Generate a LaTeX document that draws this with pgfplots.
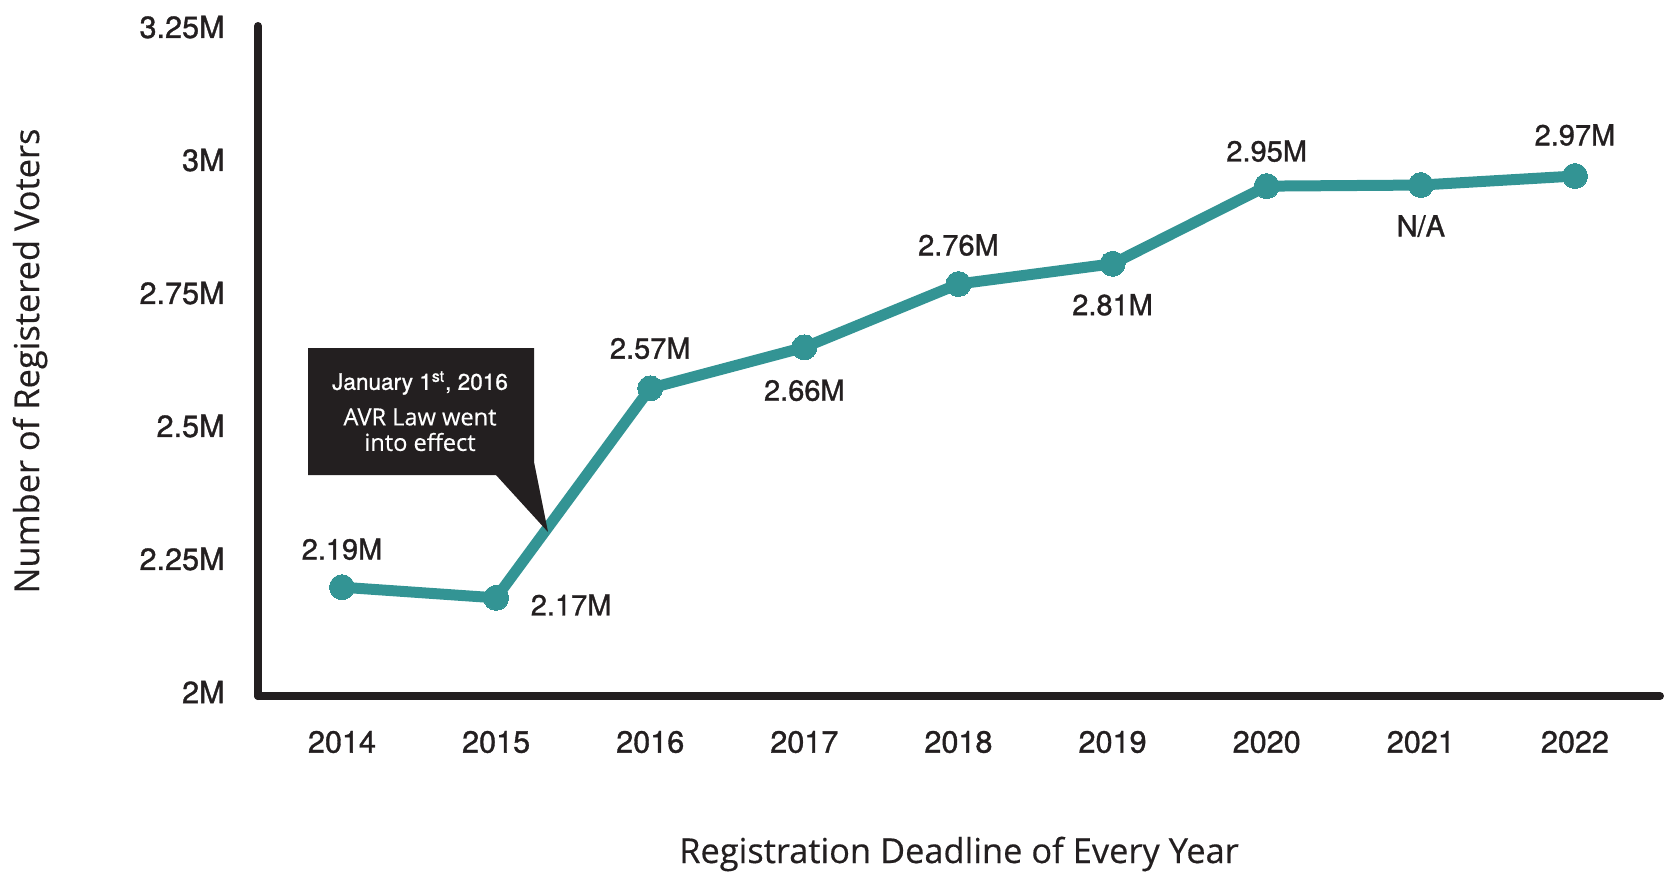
\documentclass[border=0pt]{standalone}
\usepackage{fontspec}
\setmainfont{TeX Gyre Heros}
\newfontfamily\titlefont[FakeBold=0.4]{Open Sans}
\newfontfamily\numfont[FakeBold=1.1]{TeX Gyre Heros}
\usepackage{pgfplots}
\pgfplotsset{compat=1.18}

\definecolor{teal1}{RGB}{51,148,148}
\definecolor{ink}{RGB}{35,31,32}
\tikzset{lbl/.style={font=\numfont\fontsize{14.5}{16}\selectfont, text=ink, inner sep=0pt}}

\begin{document}
\begin{tikzpicture}
\useasboundingbox (0,0) rectangle (832pt,440pt);
\begin{axis}[
  at={(129pt,92pt)}, anchor=south west,
  scale only axis, width=701pt, height=335pt,
  xmin=2013.455, xmax=2022.552,
  ymin=1.9925, ymax=3.252,
  clip=false,
  axis lines=left,
  axis line style={-, draw=ink, line width=4pt, line cap=round},
  major tick length=0pt,
  xtick={2014,2015,2016,2017,2018,2019,2020,2021,2022},
  xticklabels={2014,2015,2016,2017,2018,2019,2020,2021,2022},
  ytick={2,2.25,2.5,2.75,3,3.25},
  yticklabels={2M,2.25M,2.5M,2.75M,3M,3.25M},
  ticklabel style={font=\numfont\fontsize{15.3}{17}\selectfont, text=ink, inner sep=0pt},
  xticklabel style={anchor=center, yshift=-23pt},
  yticklabel style={anchor=east, xshift=-16.5pt},
  xlabel={Registration Deadline of Every Year},
  ylabel={Number of Registered Voters},
  label style={font=\titlefont\fontsize{17.2}{19}\selectfont, text=ink},
  xlabel style={at={(axis description cs:0.5,-0.2358)}, anchor=center},
  ylabel style={at={(axis description cs:-0.1626,0.5)}, anchor=center},
]
\addplot[teal1, line width=5.5pt, line join=round, mark=*, mark size=6.25pt,
  mark options={fill=teal1, draw=teal1, line width=0pt}]
  coordinates {
  (2014,2.197) (2015,2.177) (2016,2.571) (2017,2.648) (2018,2.767)
  (2019,2.805) (2020,2.951) (2021,2.953) (2022,2.970)
  };
\node[lbl, yshift=19pt] at (axis cs:2014,2.197) {2.19M};
\node[lbl, xshift=37.5pt, yshift=-3.5pt] at (axis cs:2015,2.177) {2.17M};
\node[lbl, yshift=20pt] at (axis cs:2016,2.571) {2.57M};
\node[lbl, yshift=-21.5pt] at (axis cs:2017,2.648) {2.66M};
\node[lbl, yshift=19.5pt] at (axis cs:2018,2.767) {2.76M};
\node[lbl, yshift=-20.5pt] at (axis cs:2019,2.805) {2.81M};
\node[lbl, yshift=17.5pt] at (axis cs:2020,2.951) {2.95M};
\node[lbl, yshift=-20.5pt] at (axis cs:2021,2.953) {N/A};
\node[lbl, yshift=20.5pt] at (axis cs:2022,2.970) {2.97M};
\end{axis}
% callout
\fill[ink] (154pt,266pt) -- (267pt,266pt) -- (267pt,209pt) -- (274pt,174pt)
  -- (248pt,202.5pt) -- (154pt,202.5pt) -- cycle;
\node[text=white, inner sep=0pt, font=\numfont\fontsize{11.3}{13}\selectfont]
  at (210pt,248.5pt) {January 1\textsuperscript{st}, 2016};
\node[text=white, inner sep=0pt, font=\titlefont\fontsize{11.8}{13}\selectfont]
  at (210pt,231.5pt) {AVR Law went};
\node[text=white, inner sep=0pt, font=\titlefont\fontsize{11.8}{13}\selectfont]
  at (210pt,219pt) {into effect};
\end{tikzpicture}
\end{document}
